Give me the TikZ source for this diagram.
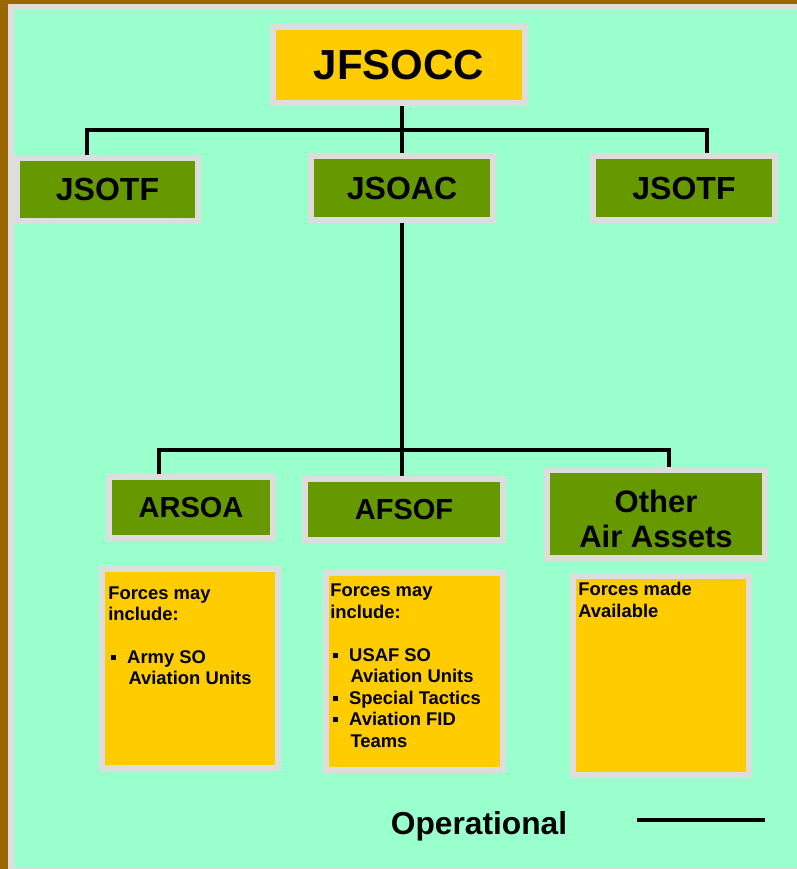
\documentclass[tikz,border=0pt]{standalone}
\usepackage{fontspec}
\setmainfont{Liberation Sans}
\usepackage{tikz}
\usetikzlibrary{backgrounds}

\definecolor{mint}{HTML}{99FFCC}
\definecolor{gold}{HTML}{FFCC00}
\definecolor{olive}{HTML}{669900}
\definecolor{frame}{HTML}{DDDDDD}
\definecolor{brown}{HTML}{996600}

\newcommand{\bul}{\hspace*{0.16em}\makebox[0.87em][l]{\rule[0.2em]{0.27em}{0.27em}}}
\newcommand{\cont}{\hspace*{1.1em}}

\begin{document}
\begin{tikzpicture}[x=0.75pt,y=-0.75pt,
   box/.style={draw=frame, line width=4.5pt, inner sep=0pt, align=center, font=\bfseries},
   chief/.style={box, fill=gold, minimum width=189pt, minimum height=57pt, font=\bfseries\fontsize{31.5}{36}\selectfont},
   cell/.style={box, fill=olive, minimum width=136pt, minimum height=48pt, font=\bfseries\fontsize{24}{28}\selectfont},
   wing/.style={box, fill=olive, minimum height=45.75pt, font=\bfseries\fontsize{21.75}{25}\selectfont},
   pool/.style={box, fill=gold, minimum width=132pt, minimum height=149pt},
   note/.style={anchor=north west, inner sep=0pt, align=left, font=\bfseries\fontsize{13.8}{16.1}\selectfont},
   link/.style={line width=2.6pt, black}]

   \useasboundingbox (0,0) rectangle (797,869);

   % top row
   \node[chief] (jfsocc) at (399,65) {JFSOCC};
   \node[cell, minimum width=135.75pt, minimum height=47.25pt] (jsotfL) at (107.5,189.5) {JSOTF};
   \node[cell] (jsoac) at (402,188) {JSOAC};
   \node[cell] (jsotfR) at (684,188) {JSOTF};

   % air components
   \node[wing, minimum width=123pt] (arsoa) at (191,507.5) {ARSOA};
   \node[wing, minimum width=148.5pt] (afsof) at (404,509.5) {AFSOF};
   \node[wing, minimum width=163.5pt, minimum height=66pt, font=\bfseries\fontsize{23.25}{26.25}\selectfont] (other) at (656,514) {\rule{0pt}{24.5pt}Other\\Air Assets};

   % forces
   \node[pool] (pool1) at (190,668.5) {};
   \node[pool, minimum width=132.75pt, minimum height=147.75pt] (pool2) at (414.5,671.5) {};
   \node[pool] (pool3) at (661,675.5) {};

   \node[note] (txt1) at ([shift={(9,20)}]pool1.north west)
      {Forces may\\include:\\[16.1pt]\bul Army SO\\\cont Aviation Units};
   \node[note] (txt2) at ([shift={(7,14)}]pool2.north west)
      {Forces may\\include:\\[16.1pt]\bul USAF SO\\\cont Aviation Units\\\bul Special Tactics\\\bul Aviation FID\\\cont Teams};
   \node[note] (txt3) at ([shift={(8,9)}]pool3.north west)
      {Forces made\\Available};

   % legend
   \node[font=\bfseries\fontsize{23.8}{27}\selectfont] (oper) at (479,826) {Operational};
   \coordinate (legA) at (637,820);
   \coordinate (legB) at (765,820);
   \draw[link] (legA) -- (legB);

   \coordinate (busL) at (87,130);
   \coordinate (busR) at (707,130);
   \coordinate (busB1) at (159,450);
   \coordinate (busB2) at (669,450);

   \begin{scope}[on background layer]
      \fill[brown] (0,0) rectangle (797,869);
      \fill[frame] (8,4) rectangle (797,869);
      \fill[mint] (14,10) rectangle (797,867);

      \draw[link] (jfsocc.south -| jsoac.north) -- (jsoac.north);
      \draw[link] (jsotfL.north -| busL) -- (busL) -- (busR) -- (jsotfR.north -| busR);
      \draw[link] (jsoac.south) -- (afsof.north -| jsoac.south);
      \draw[link] (arsoa.north -| busB1) -- (busB1) -- (busB2) -- (other.north -| busB2);
   \end{scope}
\end{tikzpicture}
\end{document}
